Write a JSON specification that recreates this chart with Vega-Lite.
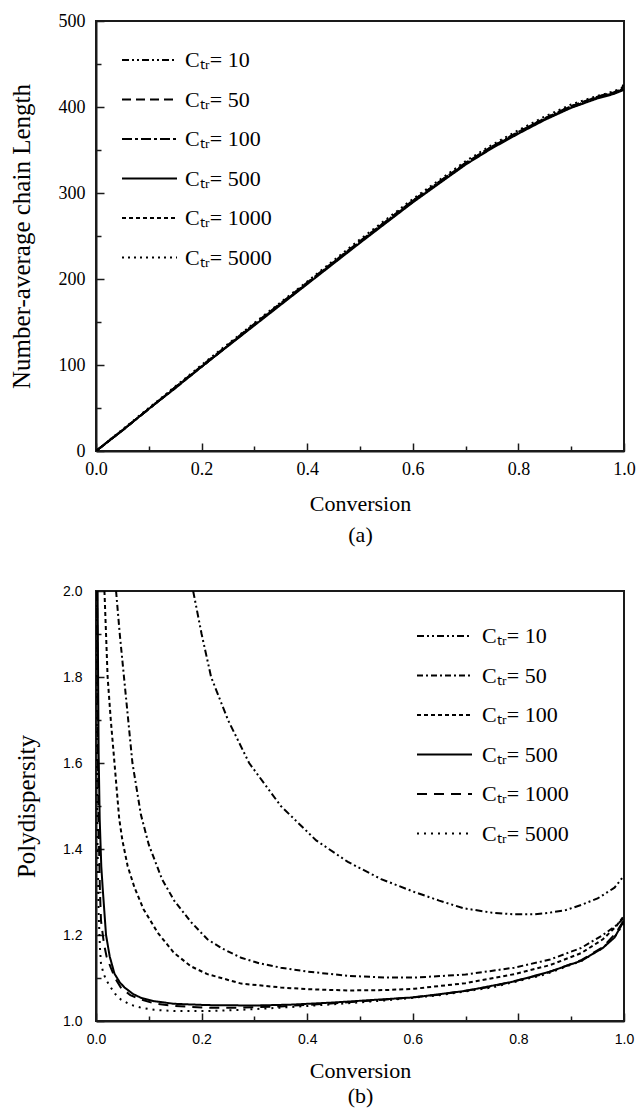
{
  "$schema": "https://vega.github.io/schema/vega-lite/v6.json",
  "background": "white",
  "padding": {"left": 8, "top": 11, "right": 5, "bottom": 4},
  "config": {
    "view": {"stroke": "#1a1a1a", "strokeWidth": 2},
    "axis": {"grid": false, "domainColor": "#1a1a1a", "domainWidth": 2, "tickColor": "#1a1a1a", "tickWidth": 1.5, "labelColor": "black", "titleColor": "black", "titleFontWeight": "normal", "titleFont": "Liberation Serif", "titleFontSize": 22},
    "line": {"color": "black", "strokeWidth": 2}
  },
  "datasets": {
    "top": [
      {"ctr": "10", "conv": 0, "xn": 0}, {"ctr": "10", "conv": 0.05, "xn": 24}, {"ctr": "10", "conv": 0.1, "xn": 49}, {"ctr": "10", "conv": 0.15, "xn": 74}, {"ctr": "10", "conv": 0.2, "xn": 98}, {"ctr": "10", "conv": 0.3, "xn": 147}, {"ctr": "10", "conv": 0.4, "xn": 195}, {"ctr": "10", "conv": 0.5, "xn": 244}, {"ctr": "10", "conv": 0.6, "xn": 291}, {"ctr": "10", "conv": 0.65, "xn": 313}, {"ctr": "10", "conv": 0.7, "xn": 335}, {"ctr": "10", "conv": 0.75, "xn": 354}, {"ctr": "10", "conv": 0.8, "xn": 371}, {"ctr": "10", "conv": 0.85, "xn": 387}, {"ctr": "10", "conv": 0.9, "xn": 401}, {"ctr": "10", "conv": 0.95, "xn": 412}, {"ctr": "10", "conv": 0.98, "xn": 417}, {"ctr": "10", "conv": 0.995, "xn": 420}, {"ctr": "10", "conv": 1.0, "xn": 428},
      {"ctr": "50", "conv": 0, "xn": 0}, {"ctr": "50", "conv": 0.05, "xn": 24}, {"ctr": "50", "conv": 0.1, "xn": 49}, {"ctr": "50", "conv": 0.15, "xn": 74}, {"ctr": "50", "conv": 0.2, "xn": 99}, {"ctr": "50", "conv": 0.3, "xn": 148}, {"ctr": "50", "conv": 0.4, "xn": 196}, {"ctr": "50", "conv": 0.5, "xn": 244}, {"ctr": "50", "conv": 0.6, "xn": 291}, {"ctr": "50", "conv": 0.65, "xn": 313}, {"ctr": "50", "conv": 0.7, "xn": 335}, {"ctr": "50", "conv": 0.75, "xn": 354}, {"ctr": "50", "conv": 0.8, "xn": 371}, {"ctr": "50", "conv": 0.85, "xn": 387}, {"ctr": "50", "conv": 0.9, "xn": 401}, {"ctr": "50", "conv": 0.95, "xn": 412}, {"ctr": "50", "conv": 0.98, "xn": 417}, {"ctr": "50", "conv": 1.0, "xn": 422},
      {"ctr": "100", "conv": 0, "xn": 0}, {"ctr": "100", "conv": 0.05, "xn": 24}, {"ctr": "100", "conv": 0.1, "xn": 49}, {"ctr": "100", "conv": 0.15, "xn": 74}, {"ctr": "100", "conv": 0.2, "xn": 98}, {"ctr": "100", "conv": 0.3, "xn": 147}, {"ctr": "100", "conv": 0.4, "xn": 195}, {"ctr": "100", "conv": 0.5, "xn": 243}, {"ctr": "100", "conv": 0.6, "xn": 290}, {"ctr": "100", "conv": 0.65, "xn": 312}, {"ctr": "100", "conv": 0.7, "xn": 334}, {"ctr": "100", "conv": 0.75, "xn": 353}, {"ctr": "100", "conv": 0.8, "xn": 370}, {"ctr": "100", "conv": 0.85, "xn": 386}, {"ctr": "100", "conv": 0.9, "xn": 400}, {"ctr": "100", "conv": 0.95, "xn": 411}, {"ctr": "100", "conv": 0.98, "xn": 416}, {"ctr": "100", "conv": 1.0, "xn": 421},
      {"ctr": "500", "conv": 0, "xn": 0}, {"ctr": "500", "conv": 0.05, "xn": 24}, {"ctr": "500", "conv": 0.1, "xn": 49}, {"ctr": "500", "conv": 0.15, "xn": 73}, {"ctr": "500", "conv": 0.2, "xn": 98}, {"ctr": "500", "conv": 0.3, "xn": 146}, {"ctr": "500", "conv": 0.4, "xn": 194}, {"ctr": "500", "conv": 0.5, "xn": 242}, {"ctr": "500", "conv": 0.6, "xn": 289}, {"ctr": "500", "conv": 0.65, "xn": 311}, {"ctr": "500", "conv": 0.7, "xn": 333}, {"ctr": "500", "conv": 0.75, "xn": 352}, {"ctr": "500", "conv": 0.8, "xn": 369}, {"ctr": "500", "conv": 0.85, "xn": 385}, {"ctr": "500", "conv": 0.9, "xn": 399}, {"ctr": "500", "conv": 0.95, "xn": 410}, {"ctr": "500", "conv": 0.98, "xn": 415}, {"ctr": "500", "conv": 1.0, "xn": 420},
      {"ctr": "1000", "conv": 0, "xn": 0}, {"ctr": "1000", "conv": 0.05, "xn": 24}, {"ctr": "1000", "conv": 0.1, "xn": 49}, {"ctr": "1000", "conv": 0.15, "xn": 73}, {"ctr": "1000", "conv": 0.2, "xn": 98}, {"ctr": "1000", "conv": 0.3, "xn": 147}, {"ctr": "1000", "conv": 0.4, "xn": 195}, {"ctr": "1000", "conv": 0.5, "xn": 243}, {"ctr": "1000", "conv": 0.6, "xn": 290}, {"ctr": "1000", "conv": 0.65, "xn": 312}, {"ctr": "1000", "conv": 0.7, "xn": 334}, {"ctr": "1000", "conv": 0.75, "xn": 353}, {"ctr": "1000", "conv": 0.8, "xn": 370}, {"ctr": "1000", "conv": 0.85, "xn": 386}, {"ctr": "1000", "conv": 0.9, "xn": 400}, {"ctr": "1000", "conv": 0.95, "xn": 411}, {"ctr": "1000", "conv": 0.98, "xn": 416}, {"ctr": "1000", "conv": 1.0, "xn": 421},
      {"ctr": "5000", "conv": 0, "xn": 0}, {"ctr": "5000", "conv": 0.05, "xn": 25}, {"ctr": "5000", "conv": 0.1, "xn": 50}, {"ctr": "5000", "conv": 0.15, "xn": 75}, {"ctr": "5000", "conv": 0.2, "xn": 100}, {"ctr": "5000", "conv": 0.3, "xn": 149}, {"ctr": "5000", "conv": 0.4, "xn": 197}, {"ctr": "5000", "conv": 0.5, "xn": 246}, {"ctr": "5000", "conv": 0.6, "xn": 293}, {"ctr": "5000", "conv": 0.65, "xn": 315}, {"ctr": "5000", "conv": 0.7, "xn": 337}, {"ctr": "5000", "conv": 0.75, "xn": 356}, {"ctr": "5000", "conv": 0.8, "xn": 373}, {"ctr": "5000", "conv": 0.85, "xn": 389}, {"ctr": "5000", "conv": 0.9, "xn": 403}, {"ctr": "5000", "conv": 0.95, "xn": 413}, {"ctr": "5000", "conv": 0.98, "xn": 418}, {"ctr": "5000", "conv": 1.0, "xn": 423}
    ],
    "bottom": [
      {"ctr": "10", "conv": 0.184, "pdi": 2.0}, {"ctr": "10", "conv": 0.2, "pdi": 1.9}, {"ctr": "10", "conv": 0.218, "pdi": 1.8}, {"ctr": "10", "conv": 0.25, "pdi": 1.7}, {"ctr": "10", "conv": 0.29, "pdi": 1.6}, {"ctr": "10", "conv": 0.35, "pdi": 1.5}, {"ctr": "10", "conv": 0.417, "pdi": 1.42}, {"ctr": "10", "conv": 0.477, "pdi": 1.37}, {"ctr": "10", "conv": 0.54, "pdi": 1.33}, {"ctr": "10", "conv": 0.603, "pdi": 1.3}, {"ctr": "10", "conv": 0.65, "pdi": 1.28}, {"ctr": "10", "conv": 0.697, "pdi": 1.262}, {"ctr": "10", "conv": 0.75, "pdi": 1.252}, {"ctr": "10", "conv": 0.792, "pdi": 1.248}, {"ctr": "10", "conv": 0.83, "pdi": 1.248}, {"ctr": "10", "conv": 0.855, "pdi": 1.251}, {"ctr": "10", "conv": 0.89, "pdi": 1.258}, {"ctr": "10", "conv": 0.919, "pdi": 1.27}, {"ctr": "10", "conv": 0.95, "pdi": 1.285}, {"ctr": "10", "conv": 0.982, "pdi": 1.31}, {"ctr": "10", "conv": 1.0, "pdi": 1.338},
      {"ctr": "50", "conv": 0.038, "pdi": 2.0}, {"ctr": "50", "conv": 0.045, "pdi": 1.9}, {"ctr": "50", "conv": 0.053, "pdi": 1.8}, {"ctr": "50", "conv": 0.069, "pdi": 1.6}, {"ctr": "50", "conv": 0.085, "pdi": 1.48}, {"ctr": "50", "conv": 0.1, "pdi": 1.41}, {"ctr": "50", "conv": 0.125, "pdi": 1.33}, {"ctr": "50", "conv": 0.148, "pdi": 1.28}, {"ctr": "50", "conv": 0.18, "pdi": 1.23}, {"ctr": "50", "conv": 0.211, "pdi": 1.19}, {"ctr": "50", "conv": 0.24, "pdi": 1.168}, {"ctr": "50", "conv": 0.275, "pdi": 1.147}, {"ctr": "50", "conv": 0.31, "pdi": 1.134}, {"ctr": "50", "conv": 0.35, "pdi": 1.124}, {"ctr": "50", "conv": 0.4, "pdi": 1.115}, {"ctr": "50", "conv": 0.477, "pdi": 1.105}, {"ctr": "50", "conv": 0.55, "pdi": 1.101}, {"ctr": "50", "conv": 0.603, "pdi": 1.101}, {"ctr": "50", "conv": 0.7, "pdi": 1.108}, {"ctr": "50", "conv": 0.792, "pdi": 1.124}, {"ctr": "50", "conv": 0.86, "pdi": 1.143}, {"ctr": "50", "conv": 0.919, "pdi": 1.17}, {"ctr": "50", "conv": 0.96, "pdi": 1.2}, {"ctr": "50", "conv": 0.985, "pdi": 1.222}, {"ctr": "50", "conv": 1.0, "pdi": 1.24},
      {"ctr": "100", "conv": 0.016, "pdi": 2.0}, {"ctr": "100", "conv": 0.019, "pdi": 1.9}, {"ctr": "100", "conv": 0.022, "pdi": 1.8}, {"ctr": "100", "conv": 0.028, "pdi": 1.7}, {"ctr": "100", "conv": 0.035, "pdi": 1.6}, {"ctr": "100", "conv": 0.044, "pdi": 1.47}, {"ctr": "100", "conv": 0.05, "pdi": 1.42}, {"ctr": "100", "conv": 0.06, "pdi": 1.36}, {"ctr": "100", "conv": 0.073, "pdi": 1.31}, {"ctr": "100", "conv": 0.09, "pdi": 1.26}, {"ctr": "100", "conv": 0.117, "pdi": 1.205}, {"ctr": "100", "conv": 0.148, "pdi": 1.158}, {"ctr": "100", "conv": 0.18, "pdi": 1.127}, {"ctr": "100", "conv": 0.211, "pdi": 1.109}, {"ctr": "100", "conv": 0.275, "pdi": 1.087}, {"ctr": "100", "conv": 0.35, "pdi": 1.078}, {"ctr": "100", "conv": 0.4, "pdi": 1.074}, {"ctr": "100", "conv": 0.477, "pdi": 1.071}, {"ctr": "100", "conv": 0.55, "pdi": 1.072}, {"ctr": "100", "conv": 0.603, "pdi": 1.075}, {"ctr": "100", "conv": 0.7, "pdi": 1.088}, {"ctr": "100", "conv": 0.792, "pdi": 1.109}, {"ctr": "100", "conv": 0.86, "pdi": 1.13}, {"ctr": "100", "conv": 0.919, "pdi": 1.158}, {"ctr": "100", "conv": 0.96, "pdi": 1.19}, {"ctr": "100", "conv": 0.985, "pdi": 1.22}, {"ctr": "100", "conv": 1.0, "pdi": 1.245},
      {"ctr": "500", "conv": 0.003, "pdi": 2.0}, {"ctr": "500", "conv": 0.004, "pdi": 1.8}, {"ctr": "500", "conv": 0.005, "pdi": 1.62}, {"ctr": "500", "conv": 0.007, "pdi": 1.47}, {"ctr": "500", "conv": 0.01, "pdi": 1.36}, {"ctr": "500", "conv": 0.0126, "pdi": 1.31}, {"ctr": "500", "conv": 0.019, "pdi": 1.2}, {"ctr": "500", "conv": 0.026, "pdi": 1.15}, {"ctr": "500", "conv": 0.035, "pdi": 1.11}, {"ctr": "500", "conv": 0.045, "pdi": 1.09}, {"ctr": "500", "conv": 0.054, "pdi": 1.078}, {"ctr": "500", "conv": 0.07, "pdi": 1.063}, {"ctr": "500", "conv": 0.085, "pdi": 1.054}, {"ctr": "500", "conv": 0.11, "pdi": 1.046}, {"ctr": "500", "conv": 0.148, "pdi": 1.04}, {"ctr": "500", "conv": 0.21, "pdi": 1.037}, {"ctr": "500", "conv": 0.3, "pdi": 1.036}, {"ctr": "500", "conv": 0.369, "pdi": 1.038}, {"ctr": "500", "conv": 0.45, "pdi": 1.043}, {"ctr": "500", "conv": 0.5, "pdi": 1.047}, {"ctr": "500", "conv": 0.603, "pdi": 1.055}, {"ctr": "500", "conv": 0.7, "pdi": 1.07}, {"ctr": "500", "conv": 0.792, "pdi": 1.092}, {"ctr": "500", "conv": 0.86, "pdi": 1.115}, {"ctr": "500", "conv": 0.919, "pdi": 1.14}, {"ctr": "500", "conv": 0.96, "pdi": 1.17}, {"ctr": "500", "conv": 0.982, "pdi": 1.194}, {"ctr": "500", "conv": 1.0, "pdi": 1.233},
      {"ctr": "1000", "conv": 0.002, "pdi": 2.0}, {"ctr": "1000", "conv": 0.003, "pdi": 1.7}, {"ctr": "1000", "conv": 0.005, "pdi": 1.45}, {"ctr": "1000", "conv": 0.0075, "pdi": 1.3}, {"ctr": "1000", "conv": 0.0095, "pdi": 1.233}, {"ctr": "1000", "conv": 0.015, "pdi": 1.18}, {"ctr": "1000", "conv": 0.02, "pdi": 1.15}, {"ctr": "1000", "conv": 0.028, "pdi": 1.124}, {"ctr": "1000", "conv": 0.037, "pdi": 1.098}, {"ctr": "1000", "conv": 0.047, "pdi": 1.078}, {"ctr": "1000", "conv": 0.065, "pdi": 1.06}, {"ctr": "1000", "conv": 0.085, "pdi": 1.05}, {"ctr": "1000", "conv": 0.11, "pdi": 1.041}, {"ctr": "1000", "conv": 0.148, "pdi": 1.035}, {"ctr": "1000", "conv": 0.211, "pdi": 1.031}, {"ctr": "1000", "conv": 0.275, "pdi": 1.031}, {"ctr": "1000", "conv": 0.35, "pdi": 1.034}, {"ctr": "1000", "conv": 0.45, "pdi": 1.041}, {"ctr": "1000", "conv": 0.55, "pdi": 1.05}, {"ctr": "1000", "conv": 0.65, "pdi": 1.061}, {"ctr": "1000", "conv": 0.75, "pdi": 1.08}, {"ctr": "1000", "conv": 0.85, "pdi": 1.11}, {"ctr": "1000", "conv": 0.92, "pdi": 1.142}, {"ctr": "1000", "conv": 0.96, "pdi": 1.172}, {"ctr": "1000", "conv": 0.985, "pdi": 1.205}, {"ctr": "1000", "conv": 1.0, "pdi": 1.235},
      {"ctr": "5000", "conv": 0.001, "pdi": 2.0}, {"ctr": "5000", "conv": 0.0015, "pdi": 1.75}, {"ctr": "5000", "conv": 0.002, "pdi": 1.55}, {"ctr": "5000", "conv": 0.003, "pdi": 1.4}, {"ctr": "5000", "conv": 0.005, "pdi": 1.25}, {"ctr": "5000", "conv": 0.0075, "pdi": 1.17}, {"ctr": "5000", "conv": 0.0095, "pdi": 1.132}, {"ctr": "5000", "conv": 0.015, "pdi": 1.108}, {"ctr": "5000", "conv": 0.02, "pdi": 1.094}, {"ctr": "5000", "conv": 0.028, "pdi": 1.078}, {"ctr": "5000", "conv": 0.037, "pdi": 1.062}, {"ctr": "5000", "conv": 0.047, "pdi": 1.05}, {"ctr": "5000", "conv": 0.065, "pdi": 1.038}, {"ctr": "5000", "conv": 0.085, "pdi": 1.031}, {"ctr": "5000", "conv": 0.11, "pdi": 1.026}, {"ctr": "5000", "conv": 0.148, "pdi": 1.023}, {"ctr": "5000", "conv": 0.211, "pdi": 1.023}, {"ctr": "5000", "conv": 0.275, "pdi": 1.026}, {"ctr": "5000", "conv": 0.35, "pdi": 1.031}, {"ctr": "5000", "conv": 0.45, "pdi": 1.039}, {"ctr": "5000", "conv": 0.55, "pdi": 1.048}, {"ctr": "5000", "conv": 0.65, "pdi": 1.06}, {"ctr": "5000", "conv": 0.75, "pdi": 1.078}, {"ctr": "5000", "conv": 0.85, "pdi": 1.108}, {"ctr": "5000", "conv": 0.92, "pdi": 1.14}, {"ctr": "5000", "conv": 0.96, "pdi": 1.17}, {"ctr": "5000", "conv": 0.985, "pdi": 1.2}, {"ctr": "5000", "conv": 1.0, "pdi": 1.228}
    ]
  },
  "spacing": 37,
  "resolve": {"scale": {"strokeDash": "independent"}, "legend": {"strokeDash": "independent"}},
  "vconcat": [
    {
      "width": 528,
      "height": 430,
      "data": {"name": "top"},
      "resolve": {"axis": {"x": "independent", "y": "independent"}},
      "layer": [
        {
          "mark": {"type": "line", "clip": true},
          "encoding": {
            "x": {"field": "conv", "type": "quantitative", "scale": {"domain": [0, 1], "nice": false},
              "axis": {"values": [0, 0.2, 0.4, 0.6, 0.8, 1.0], "format": ".1f", "tickSize": -8, "labelPadding": 17, "labelFlush": false, "labelFont": "Liberation Serif", "labelFontSize": 18, "title": ["Conversion", "(a)"], "titleLineHeight": 31, "titlePadding": 15}},
            "y": {"field": "xn", "type": "quantitative", "scale": {"domain": [0, 500], "nice": false},
              "axis": {"values": [0, 100, 200, 300, 400, 500], "tickSize": -8, "labelPadding": 19, "labelFont": "Liberation Serif", "labelFontSize": 18, "title": "Number-average chain Length", "titleFontSize": 25, "titlePadding": 24}},
            "strokeDash": {"field": "ctr", "type": "nominal",
              "scale": {"domain": ["10", "50", "100", "500", "1000", "5000"], "range": [[7, 3, 2, 3, 2, 3], [9, 5], [10, 3, 3, 3], [1, 0], [4, 3], [2, 4]]},
              "legend": {"orient": "none", "legendX": 25, "legendY": 29, "title": null, "symbolType": "stroke", "symbolSize": 3025, "symbolStrokeWidth": 2, "symbolStrokeColor": "black", "clipHeight": 20, "rowPadding": 17.5, "labelFont": "Liberation Serif", "labelFontSize": 22, "labelColor": "black", "labelOffset": 7, "padding": 0, "labelExpr": "'Cₜᵣ= ' + datum.label"}}
          }
        },
        {
          "mark": {"type": "point", "opacity": 0},
          "encoding": {
            "x": {"field": "conv", "type": "quantitative", "axis": {"orient": "bottom", "values": [0.1, 0.3, 0.5, 0.7, 0.9], "labels": false, "domain": false, "tickSize": -5, "title": null}},
            "y": {"field": "xn", "type": "quantitative", "axis": {"orient": "left", "values": [50, 150, 250, 350, 450], "labels": false, "domain": false, "tickSize": -5, "title": null}}
          }
        }
      ]
    },
    {
      "width": 528,
      "height": 430,
      "data": {"name": "bottom"},
      "resolve": {"axis": {"x": "independent", "y": "independent"}},
      "layer": [
        {
          "mark": {"type": "line", "clip": true},
          "encoding": {
            "x": {"field": "conv", "type": "quantitative", "scale": {"domain": [0, 1], "nice": false},
              "axis": {"values": [0, 0.2, 0.4, 0.6, 0.8, 1.0], "format": ".1f", "tickSize": -8, "labelPadding": 19, "labelFlush": false, "labelFont": "Liberation Sans", "labelFontSize": 14, "title": ["Conversion", "(b)"], "titleLineHeight": 25, "titlePadding": 14}},
            "y": {"field": "pdi", "type": "quantitative", "scale": {"domain": [1, 2], "nice": false, "zero": false},
              "axis": {"values": [1.0, 1.2, 1.4, 1.6, 1.8, 2.0], "format": ".1f", "tickSize": -8, "labelPadding": 22, "labelFont": "Liberation Sans", "labelFontSize": 14, "title": "Polydispersity", "titleFontSize": 25, "titlePadding": 23}},
            "strokeDash": {"field": "ctr", "type": "nominal",
              "scale": {"domain": ["10", "50", "100", "500", "1000", "5000"], "range": [[7, 3, 2, 3, 2, 3], [6, 3, 2, 3], [4, 3], [1, 0], [10, 7], [2, 5]]},
              "legend": {"orient": "none", "legendX": 320, "legendY": 35, "title": null, "symbolType": "stroke", "symbolSize": 3025, "symbolStrokeWidth": 2, "symbolStrokeColor": "black", "clipHeight": 20, "rowPadding": 17.5, "labelFont": "Liberation Serif", "labelFontSize": 22, "labelColor": "black", "labelOffset": 9, "padding": 0, "labelExpr": "'Cₜᵣ= ' + datum.label"}}
          }
        },
        {
          "mark": {"type": "point", "opacity": 0},
          "encoding": {
            "x": {"field": "conv", "type": "quantitative", "axis": {"orient": "bottom", "values": [0.1, 0.3, 0.5, 0.7, 0.9], "labels": false, "domain": false, "tickSize": -5, "title": null}},
            "y": {"field": "pdi", "type": "quantitative", "axis": {"orient": "left", "values": [1.1, 1.3, 1.5, 1.7, 1.9], "labels": false, "domain": false, "tickSize": -5, "title": null}}
          }
        }
      ]
    }
  ]
}
